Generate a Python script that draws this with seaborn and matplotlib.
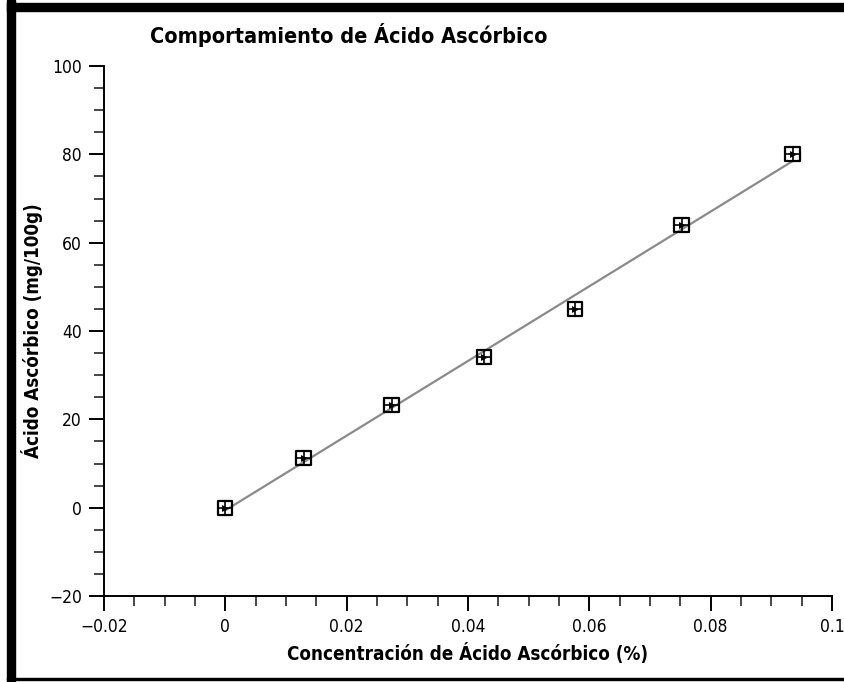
import numpy as np
import pandas as pd
import matplotlib
matplotlib.use("Agg")
import matplotlib.pyplot as plt
import seaborn as sns
from matplotlib.ticker import MultipleLocator, FuncFormatter
from matplotlib.patches import Rectangle

# Concentration (%) vs ascorbic acid content (mg/100g)
concentracion = [0.0, 0.0129, 0.0274, 0.0427, 0.0577, 0.0752, 0.0935]
acido = [0.0, 11.2, 23.2, 34.1, 44.9, 64.0, 80.0]

df = pd.DataFrame({"conc": concentracion, "acido": acido})

sns.set_style("white")
plt.rcParams["font.family"] = ["DejaVu Sans"]
plt.rcParams["font.stretch"] = "condensed"
plt.rcParams["text.color"] = "black"
plt.rcParams["axes.labelcolor"] = "black"

fig = plt.figure(figsize=(8.45, 6.82), dpi=100)
ax = fig.add_axes([0.1231, 0.1261, 0.8615, 0.7771])

# fitted line
sns.regplot(data=df, x="conc", y="acido", scatter=False, ci=None, truncate=True,
            color="#8a8a8a", line_kws={"linewidth": 1.6}, ax=ax)

# markers: open square with a cross and a small dot
sns.scatterplot(data=df, x="conc", y="acido", marker="s", s=105,
                facecolor="none", edgecolor="black", linewidth=1.6, ax=ax, zorder=3)
sns.scatterplot(data=df, x="conc", y="acido", marker="+", s=105,
                color="black", linewidth=1.2, ax=ax, zorder=4)
sns.scatterplot(data=df, x="conc", y="acido", marker=">", s=25,
                color="black", linewidth=0, ax=ax, zorder=5)

ax.set_xlim(-0.02, 0.1)
ax.set_ylim(-20, 100)
ax.xaxis.set_major_locator(MultipleLocator(0.02))
ax.xaxis.set_minor_locator(MultipleLocator(0.005))
ax.yaxis.set_major_locator(MultipleLocator(20))
ax.yaxis.set_minor_locator(MultipleLocator(5))

def fmt(v, pos):
    s = f"{v:.2f}".rstrip("0").rstrip(".")
    if s in ("-0", "0.0"):
        s = "0"
    return s.replace("-", "\u2212")

ax.xaxis.set_major_formatter(FuncFormatter(fmt))
ax.yaxis.set_major_formatter(FuncFormatter(lambda v, p: f"{v:.0f}".replace("-", "\u2212")))

ax.tick_params(which="major", direction="out", length=11, width=1.4, labelsize=12.5,
               colors="black", left=True, bottom=True, pad=5)
ax.tick_params(which="minor", direction="out", length=7, width=1.2, left=True, bottom=True)

for side in ["top", "right"]:
    ax.spines[side].set_visible(False)
for side in ["left", "bottom"]:
    ax.spines[side].set_color("black")
    ax.spines[side].set_linewidth(1.4)

ax.set_xlabel("Concentración de Ácido Ascórbico (%)", fontsize=13.5, fontweight="bold", labelpad=5)
ax.set_ylabel("Ácido Ascórbico (mg/100g)", fontsize=13.5, fontweight="bold", labelpad=4)

fig.text(150 / 845, 1 - 35 / 682, "Comportamiento de Ácido Ascórbico",
         fontsize=15.5, fontweight="bold", ha="left", va="center")

# outer black frame (left, top, bottom)
fig.patches.append(Rectangle((7 / 845, 0), 8 / 845, 1, transform=fig.transFigure,
                             color="black", zorder=10))
fig.patches.append(Rectangle((7 / 845, 1 - 11 / 682), 1, 8 / 682, transform=fig.transFigure,
                             color="black", zorder=10))
fig.patches.append(Rectangle((7 / 845, 2 / 682), 1, 2 / 682, transform=fig.transFigure,
                             color="black", zorder=10))

fig.savefig("out.png", dpi=100)
